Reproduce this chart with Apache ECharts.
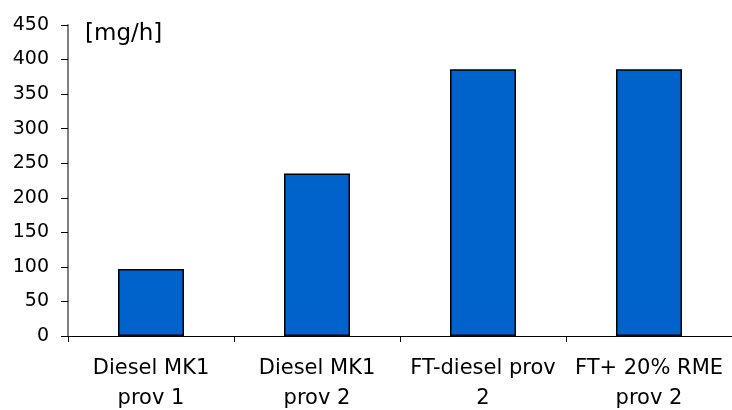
<!DOCTYPE html>
<html>
<head>
<meta charset="utf-8">
<script src="https://cdn.jsdelivr.net/npm/echarts@6/dist/echarts.min.js"></script>
<style>
  html, body { margin: 0; padding: 0; background: #fff; }
  #chart { width: 732px; height: 410px; }
</style>
</head>
<body>
<div id="chart"></div>
<script>
// Fuel test categories (two-line tick labels) and measured emission rates in mg/h
const categories = ['Diesel MK1\nprov 1', 'Diesel MK1\nprov 2', 'FT-diesel prov\n2', 'FT+ 20% RME\nprov 2'];
const values = [97, 235, 386, 386];
const unitLabel = '[mg/h]';

const chart = echarts.init(document.getElementById('chart'), null, { renderer: 'canvas' });
const font = '"DejaVu Sans", "Liberation Sans", sans-serif';

chart.setOption({
  animation: false,
  backgroundColor: '#ffffff',
  grid: { left: 68, right: 0, top: 25, bottom: 74, containLabel: false, outerBoundsMode: 'none' },
  graphic: [{
    type: 'text',
    left: 85,
    top: 23,
    style: { text: unitLabel, font: '23px ' + font, fill: '#000' }
  }],
  xAxis: {
    type: 'category',
    data: categories,
    boundaryGap: true,
    axisLine: { show: true, lineStyle: { color: '#000', width: 1 } },
    axisTick: { show: true, length: 6, alignWithLabel: false, lineStyle: { color: '#000' } },
    axisLabel: {
      interval: 0,
      margin: 18,
      fontFamily: font,
      fontSize: 21,
      lineHeight: 30,
      color: '#000'
    },
    splitLine: { show: false }
  },
  yAxis: {
    type: 'value',
    min: 0,
    max: 450,
    interval: 50,
    axisLine: { show: true, lineStyle: { color: '#808080', width: 2 } },
    axisTick: { show: true, inside: false, length: 7, lineStyle: { color: '#000' } },
    axisLabel: { margin: 19, fontFamily: font, fontSize: 19, color: '#000' },
    splitLine: { show: false }
  },
  series: [{
    type: 'bar',
    data: values,
    barWidth: 66,
    itemStyle: { color: '#0063CC', borderColor: '#000', borderWidth: 1.5 }
  }]
});
</script>
</body>
</html>
